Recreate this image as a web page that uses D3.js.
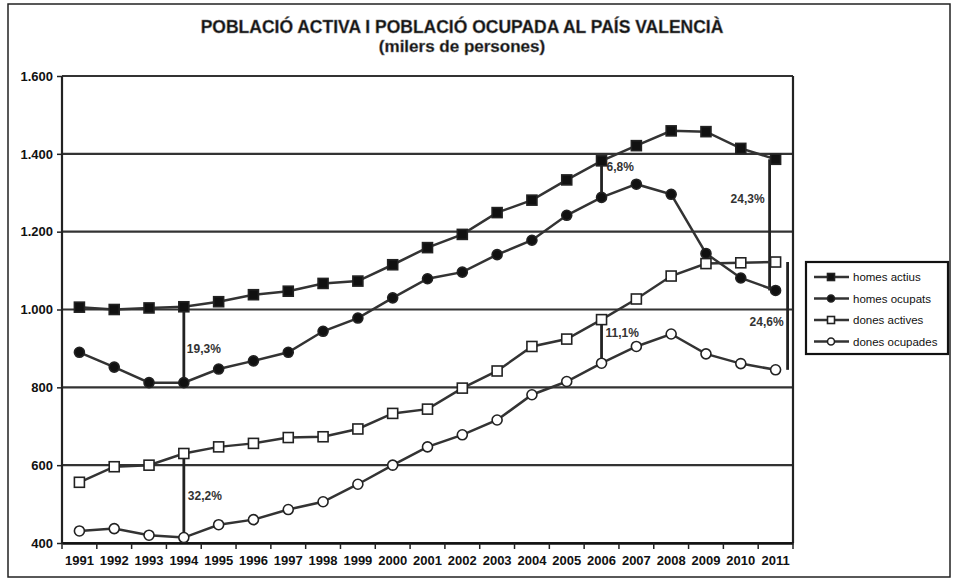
<!DOCTYPE html>
<html><head><meta charset="utf-8">
<script src="https://cdn.jsdelivr.net/npm/d3@7"></script>
<style>body{margin:0;background:#fff}text{font-family:"Liberation Sans",Arial,sans-serif}</style>
</head><body><svg id="c" width="955" height="580"></svg>
<script>
const years = ["1991","1992","1993","1994","1995","1996","1997","1998","1999","2000","2001","2002","2003","2004","2005","2006","2007","2008","2009","2010","2011"];
const homesActius   = [1006,1000,1004,1007,1020,1038,1047,1067,1073,1115,1159,1193,1249,1281,1333,1382,1421,1459,1457,1414,1386];
const homesOcupats  = [890,852,812,812,847,868,890,944,978,1030,1079,1096,1141,1178,1242,1288,1322,1296,1144,1081,1049];
const donesActives  = [556,596,600,630,647,656,671,673,693,733,744,798,842,905,924,974,1027,1086,1118,1120,1122];
const donesOcupades = [431,437,420,414,447,460,486,506,551,600,647,678,716,781,815,862,905,937,886,861,845];
const yTicks = [400,600,800,1000,1200,1400,1600];
const seriesNames = ["homes actius","homes ocupats","dones actives","dones ocupades"];
const annotYears = ["1994","1994","2006","2006","2011","2011"];
const annotLabels = ["19,3%","32,2%","6,8%","11,1%","24,3%","24,6%"];

const series = [
  {name: seriesNames[0], values: homesActius, shape: "square", fill: "#111"},
  {name: seriesNames[1], values: homesOcupats, shape: "circle", fill: "#111"},
  {name: seriesNames[2], values: donesActives, shape: "square", fill: "#fff"},
  {name: seriesNames[3], values: donesOcupades, shape: "circle", fill: "#fff"}
];
const annotPairs = [[homesActius, homesOcupats],[donesActives, donesOcupades],[homesActius, homesOcupats],[donesActives, donesOcupades],[homesActius, homesOcupats],[donesActives, donesOcupades]];
const annotStyle = [
  {dx:0, lx:3, anchor:"start", ly:"mid", lyo:8},
  {dx:0, lx:4, anchor:"start", ly:"mid", lyo:4},
  {dx:0, lx:5, anchor:"start", ly:"top", lyo:10},
  {dx:0, lx:4, anchor:"start", ly:"top", lyo:17},
  {dx:-6, lx:-5, anchor:"end", ly:"mid", lyo:-22},
  {dx:12, lx:-4, anchor:"end", ly:"mid", lyo:10}
];

const svg = d3.select("#c");
const L = 62, R = 793, T = 76, B = 543;

svg.append("rect").attr("x",8).attr("y",4).attr("width",942).attr("height",573)
  .attr("fill","none").attr("stroke","#222").attr("stroke-width",1.5);

const x = d3.scaleBand().domain(years).range([L, R]).padding(0);
const y = d3.scaleLinear().domain([400, 1600]).range([B, T]);
const cx = d => x(d) + x.bandwidth()/2;

// title
svg.append("text").attr("x",462).attr("y",33).attr("text-anchor","middle")
  .attr("font-size",17.5).attr("font-weight","bold").attr("fill","#111")
  .attr("stroke","#777").attr("stroke-width",0.5)
  .text("POBLACIÓ ACTIVA I POBLACIÓ OCUPADA AL PAÍS VALENCIÀ");
svg.append("text").attr("x",462).attr("y",52).attr("text-anchor","middle")
  .attr("font-size",17).attr("font-weight","bold").attr("fill","#111")
  .attr("stroke","#777").attr("stroke-width",0.5)
  .text("(milers de persones)");

// gridlines
svg.append("g").selectAll("line").data(yTicks).join("line")
  .attr("x1",L).attr("x2",R).attr("y1",d=>y(d)).attr("y2",d=>y(d))
  .attr("stroke","#333").attr("stroke-width",2.2);

// plot frame (left & right)
svg.append("line").attr("x1",L).attr("x2",L).attr("y1",T).attr("y2",B).attr("stroke","#222").attr("stroke-width",2.2);
svg.append("line").attr("x1",R).attr("x2",R).attr("y1",T).attr("y2",B).attr("stroke","#222").attr("stroke-width",2.2);

// y axis
const yAxis = d3.axisLeft(y).tickValues(yTicks).tickSize(5).tickPadding(4)
  .tickFormat(d => d3.format(",")(d).replace(/,/g,"."));
const gy = svg.append("g").attr("transform",`translate(${L},0)`).call(yAxis);
gy.select(".domain").remove();
gy.selectAll("line").attr("stroke","#222").attr("stroke-width",1.5);
gy.selectAll("text").attr("font-size",13).attr("font-weight","bold").attr("fill","#111")
  .attr("font-family","Liberation Sans, Arial, sans-serif");

// x axis
const xAxis = d3.axisBottom(x).tickSize(0).tickPadding(13);
const gx = svg.append("g").attr("transform",`translate(0,${B})`).call(xAxis);
gx.select(".domain").attr("stroke","#111").attr("stroke-width",2.5);
gx.selectAll("text").attr("font-size",13).attr("font-weight","bold").attr("fill","#111")
  .attr("font-family","Liberation Sans, Arial, sans-serif");
gx.selectAll(".sep").data(years.concat(["end"])).join("line").attr("class","sep")
  .attr("x1",(d,i)=> L + i*x.bandwidth()).attr("x2",(d,i)=> L + i*x.bandwidth())
  .attr("y1",0).attr("y2",6).attr("stroke","#222").attr("stroke-width",1.5);

// annotations (vertical lines)
const ag = svg.append("g");
annotYears.forEach((yr,i)=>{
  const idx = years.indexOf(yr);
  const [up, lo] = annotPairs[i];
  const st = annotStyle[i];
  const xx = cx(yr) + st.dx;
  const y1 = y(up[idx]), y2 = y(lo[idx]);
  ag.append("line").attr("x1",xx).attr("x2",xx).attr("y1",y1).attr("y2",y2)
    .attr("stroke","#222").attr("stroke-width",2.8);
  const ly = (st.ly === "mid" ? (y1+y2)/2 : y1) + st.lyo;
  ag.append("text").attr("x",xx + st.lx).attr("y",ly).attr("text-anchor",st.anchor)
    .attr("font-size",12).attr("font-weight","bold").attr("fill","#333")
    .text(annotLabels[i]);
});

// series
const line = d3.line().x((d,i)=>cx(years[i])).y(d=>y(d));
function marker(g, shape, fill, size){
  if(shape==="square"){
    g.append("rect").attr("x",-size/2).attr("y",-size/2).attr("width",size).attr("height",size)
      .attr("fill",fill).attr("stroke","#222").attr("stroke-width",1.6);
  } else {
    g.append("circle").attr("r",size/2).attr("fill",fill).attr("stroke","#222").attr("stroke-width",1.6);
  }
}
series.forEach(s=>{
  svg.append("path").datum(s.values).attr("d",line).attr("fill","none")
    .attr("stroke","#333").attr("stroke-width",2.5);
  const mg = svg.append("g");
  s.values.forEach((v,i)=>{
    const g = mg.append("g").attr("transform",`translate(${cx(years[i])},${y(v)})`);
    marker(g, s.shape, s.fill, 10);
  });
});

// legend
const lg = svg.append("g");
lg.append("rect").attr("x",806).attr("y",262).attr("width",142).attr("height",92)
  .attr("fill","#fff").attr("stroke","#111").attr("stroke-width",2.2);
series.forEach((s,i)=>{
  const yy = 277 + i*21.5;
  lg.append("line").attr("x1",814).attr("x2",849).attr("y1",yy).attr("y2",yy)
    .attr("stroke","#333").attr("stroke-width",2.4);
  const g = lg.append("g").attr("transform",`translate(831,${yy})`);
  marker(g, s.shape, s.fill, 7);
  lg.append("text").attr("x",853).attr("y",yy+4).attr("font-size",11.5).attr("fill","#111")
    .text(s.name);
});
</script></body></html>
